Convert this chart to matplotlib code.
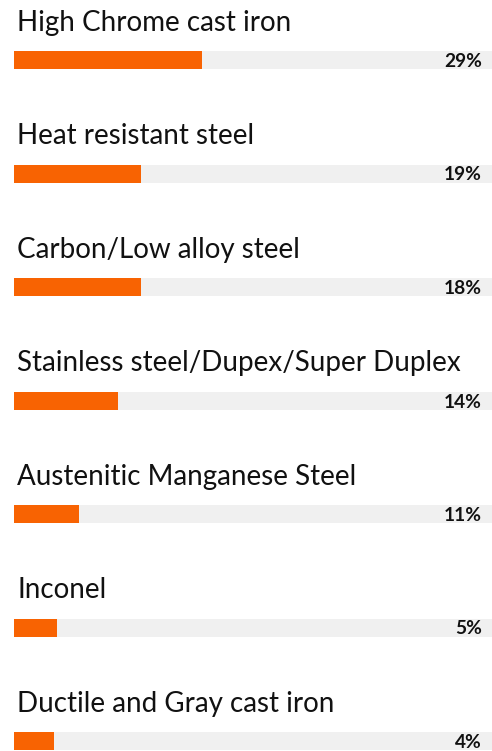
import matplotlib
matplotlib.use('Agg')
import matplotlib.pyplot as plt

categories = ['High Chrome cast iron', 'Heat resistant steel', 'Carbon/Low alloy steel',
              'Stainless steel/Dupex/Super Duplex', 'Austenitic Manganese Steel',
              'Inconel', 'Ductile and Gray cast iron']
# bar lengths (share of the full grey track, 0-100)
bar_values = [39.3, 26.6, 26.6, 21.8, 13.6, 9.0, 8.4]
pct_labels = ['29%', '19%', '18%', '14%', '11%', '5%', '4%']

orange = '#F86302'
track = '#F0F0F0'

W, H = 492, 751
fig = plt.figure(figsize=(W / 100, H / 100), dpi=100)
ax = fig.add_axes([0, 0, 1, 1])

# layout in pixels
left_px, track_px = 14, 478
pitch, first_center, bar_h = 113.5, 60, 18

rows = list(range(len(categories)))
ax.barh(rows, [100] * len(rows), height=bar_h / pitch, color=track, left=0)
ax.barh(rows, bar_values, height=bar_h / pitch, color=orange, left=0)

for i, (name, pct) in enumerate(zip(categories, pct_labels)):
    ax.text((17 - left_px) / track_px * 100, i - 29 / pitch, name,
            fontsize=20, family='Lato', color='#111111', va='baseline', ha='left')
    ax.text((482 - left_px) / track_px * 100, i + 7 / pitch, pct,
            fontsize=13.8, family='Lato', fontweight='bold', color='#111111',
            va='baseline', ha='right')

ax.set_xlim(-left_px / track_px * 100, (W - left_px) / track_px * 100)
ax.set_ylim((H - first_center) / pitch, -first_center / pitch)
ax.axis('off')

fig.savefig('out.png', dpi=100)
